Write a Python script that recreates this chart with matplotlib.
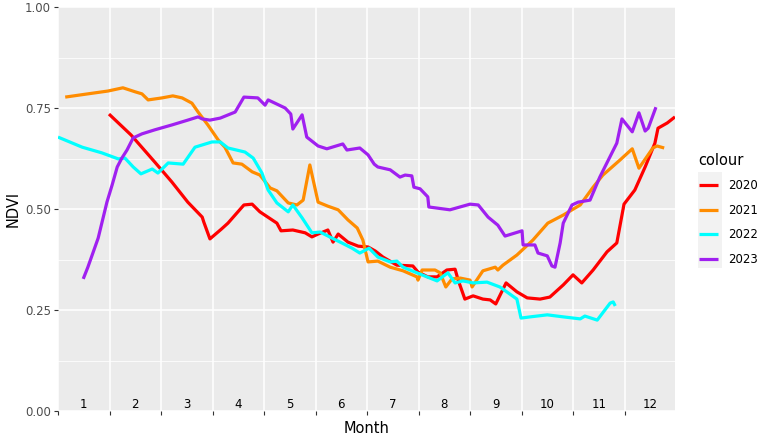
import matplotlib
matplotlib.use("Agg")
import matplotlib.pyplot as plt
from matplotlib.patches import Rectangle

# x is position along the year in month units (label k sits at x=k)
x_2020 = [1.49, 1.92, 2.38, 2.71, 3.02, 3.30, 3.33, 3.45, 3.67, 3.80, 4.11, 4.27, 4.42, 4.75, 4.83,
          5.06, 5.30, 5.43, 5.55, 5.74, 5.84, 5.94, 6.13, 6.33, 6.52, 6.66, 6.81, 7.08, 7.39, 7.49,
          7.68, 7.86, 8.05, 8.21, 8.27, 8.40, 8.56, 8.75, 8.89, 9.00, 9.20, 9.41, 9.61, 9.86, 10.05,
          10.31, 10.50, 10.67, 10.89, 11.16, 11.35, 11.49, 11.70, 11.90, 12.09, 12.15, 12.33, 12.48]
ndvi_2020 = [0.735, 0.683, 0.616, 0.567, 0.517, 0.480, 0.468, 0.426, 0.450, 0.465, 0.510, 0.512, 0.493,
             0.465, 0.446, 0.448, 0.441, 0.431, 0.438, 0.448, 0.418, 0.438, 0.418, 0.408, 0.406, 0.396,
             0.381, 0.361, 0.359, 0.344, 0.332, 0.332, 0.349, 0.351, 0.324, 0.277, 0.285, 0.277, 0.275,
             0.265, 0.317, 0.295, 0.280, 0.277, 0.282, 0.312, 0.337, 0.317, 0.349, 0.394, 0.416, 0.512,
             0.547, 0.604, 0.663, 0.700, 0.713, 0.728]

x_2021 = [0.64, 1.08, 1.47, 1.76, 2.00, 2.13, 2.25, 2.52, 2.73, 2.91, 3.10, 3.22, 3.41, 3.61, 3.74,
          3.90, 4.07, 4.27, 4.42, 4.62, 4.75, 4.97, 5.14, 5.26, 5.39, 5.55, 5.74, 5.94, 6.13, 6.31,
          6.42, 6.52, 6.71, 6.95, 7.20, 7.47, 7.49, 7.57, 7.82, 7.92, 8.03, 8.15, 8.31, 8.50, 8.54,
          8.75, 8.99, 9.04, 9.14, 9.41, 9.72, 10.01, 10.31, 10.64, 10.89, 11.08, 11.41, 11.65, 11.78,
          12.05, 12.13, 12.27]
ndvi_2021 = [0.777, 0.785, 0.792, 0.800, 0.790, 0.785, 0.770, 0.775, 0.780, 0.775, 0.762, 0.740, 0.708,
             0.671, 0.653, 0.614, 0.611, 0.592, 0.584, 0.552, 0.545, 0.515, 0.510, 0.522, 0.609, 0.517,
             0.507, 0.498, 0.473, 0.453, 0.423, 0.369, 0.371, 0.356, 0.347, 0.332, 0.324, 0.349, 0.349,
             0.342, 0.307, 0.327, 0.329, 0.324, 0.307, 0.347, 0.356, 0.349, 0.361, 0.386, 0.423, 0.465,
             0.485, 0.510, 0.554, 0.584, 0.621, 0.649, 0.601, 0.651, 0.656, 0.651]

x_2022 = [0.50, 0.97, 1.35, 1.67, 1.80, 1.96, 2.11, 2.33, 2.44, 2.64, 2.93, 3.16, 3.49, 3.65, 3.80,
          4.13, 4.29, 4.46, 4.58, 4.75, 4.97, 5.06, 5.24, 5.43, 5.59, 5.82, 6.01, 6.21, 6.36, 6.54,
          6.71, 6.95, 7.08, 7.20, 7.47, 7.86, 8.07, 8.21, 8.36, 8.56, 8.83, 9.08, 9.41, 9.49, 9.67,
          10.00, 10.31, 10.64, 10.73, 10.97, 11.22, 11.28, 11.32]
ndvi_2022 = [0.678, 0.653, 0.639, 0.624, 0.626, 0.604, 0.587, 0.599, 0.589, 0.614, 0.611, 0.653, 0.666,
             0.666, 0.651, 0.641, 0.626, 0.589, 0.547, 0.515, 0.493, 0.510, 0.478, 0.441, 0.443, 0.428,
             0.416, 0.403, 0.391, 0.403, 0.381, 0.369, 0.371, 0.356, 0.342, 0.322, 0.342, 0.317, 0.322,
             0.317, 0.319, 0.307, 0.277, 0.230, 0.233, 0.238, 0.233, 0.228, 0.235, 0.225, 0.267, 0.270,
             0.260]

x_2023 = [0.99, 1.08, 1.28, 1.45, 1.55, 1.65, 1.74, 1.84, 1.96, 2.13, 2.38, 2.71, 3.02, 3.22, 3.30,
          3.45, 3.65, 3.94, 4.11, 4.38, 4.52, 4.58, 4.91, 5.02, 5.06, 5.24, 5.33, 5.55, 5.72, 6.03,
          6.11, 6.36, 6.52, 6.64, 6.71, 6.95, 7.14, 7.24, 7.37, 7.41, 7.53, 7.68, 7.70, 8.11, 8.50,
          8.66, 8.85, 9.04, 9.18, 9.51, 9.53, 9.76, 9.82, 10.00, 10.09, 10.15, 10.25, 10.31, 10.48,
          10.60, 10.83, 11.02, 11.35, 11.45, 11.65, 11.78, 11.90, 11.96, 12.11]
ndvi_2023 = [0.327, 0.356, 0.428, 0.517, 0.559, 0.604, 0.626, 0.646, 0.676, 0.686, 0.696, 0.708, 0.720,
             0.728, 0.723, 0.720, 0.725, 0.740, 0.777, 0.775, 0.757, 0.770, 0.750, 0.735, 0.698, 0.733,
             0.678, 0.656, 0.649, 0.661, 0.646, 0.651, 0.634, 0.611, 0.604, 0.597, 0.579, 0.584, 0.582,
             0.554, 0.550, 0.530, 0.505, 0.498, 0.512, 0.510, 0.480, 0.460, 0.433, 0.446, 0.411, 0.411,
             0.391, 0.384, 0.359, 0.356, 0.416, 0.465, 0.510, 0.517, 0.522, 0.579, 0.663, 0.723, 0.691,
             0.738, 0.693, 0.700, 0.752]

years = ["2020", "2021", "2022", "2023"]
colors = ["#FF0000", "#FF8C00", "#00FFFF", "#A020F0"]
months = [str(m) for m in range(1, 13)]

fig = plt.figure(figsize=(7.73, 4.42), dpi=100)
ax = fig.add_axes([58 / 773, 31 / 442, 617 / 773, 404 / 442])
ax.set_facecolor("#EBEBEB")
for s in ax.spines.values():
    s.set_visible(False)

series = [(x_2020, ndvi_2020), (x_2021, ndvi_2021), (x_2022, ndvi_2022), (x_2023, ndvi_2023)]
for (xs, ys), yr, c in zip(series, years, colors):
    ax.plot(xs, ys, color=c, lw=2.3, label=yr, solid_capstyle="butt", zorder=3)

ax.set_xlim(0.5, 12.48)
ax.set_ylim(0, 1)
ax.set_xticks([m - 0.5 for m in range(1, 13)])
ax.set_xticklabels([])
ax.set_yticks([0, 0.25, 0.5, 0.75, 1.0])
ax.set_yticklabels(["0.00", "0.25", "0.50", "0.75", "1.00"])
ax.set_yticks([0.125, 0.375, 0.625, 0.875], minor=True)
ax.grid(True, which="major", color="white", lw=1.1, zorder=0)
ax.grid(True, which="minor", axis="y", color="white", lw=0.55, zorder=0)
ax.set_axisbelow(True)
ax.tick_params(axis="both", which="major", length=3, width=0.8, color="#333333",
               labelsize=8.5, labelcolor="#4D4D4D", pad=2)
ax.tick_params(axis="y", which="minor", length=0)

for i, lab in enumerate(months):
    ax.text(i + 1, 0.017, lab, ha="center", va="center", fontsize=8.5, color="black")

ax.set_xlabel("Month", fontsize=10.5, labelpad=2)
ax.set_ylabel("NDVI", fontsize=10.5, labelpad=3)

# legend keys sit on light grey boxes like ggplot
fig.patches.append(Rectangle((698 / 773, (442 - 268) / 442), 24 / 773, 96 / 442,
                             transform=fig.transFigure, facecolor="#F2F2F2",
                             edgecolor="none", zorder=-1))
leg = ax.legend(loc="upper left", bbox_to_anchor=(694 / 773, (442 - 148) / 442),
                bbox_transform=fig.transFigure, frameon=False, title="colour",
                fontsize=8.5, title_fontsize=10.5, handlelength=1.65,
                handletextpad=0.8, labelspacing=0.98, borderaxespad=0)
leg._legend_box.align = "left"

fig.savefig("out.png", dpi=100)
